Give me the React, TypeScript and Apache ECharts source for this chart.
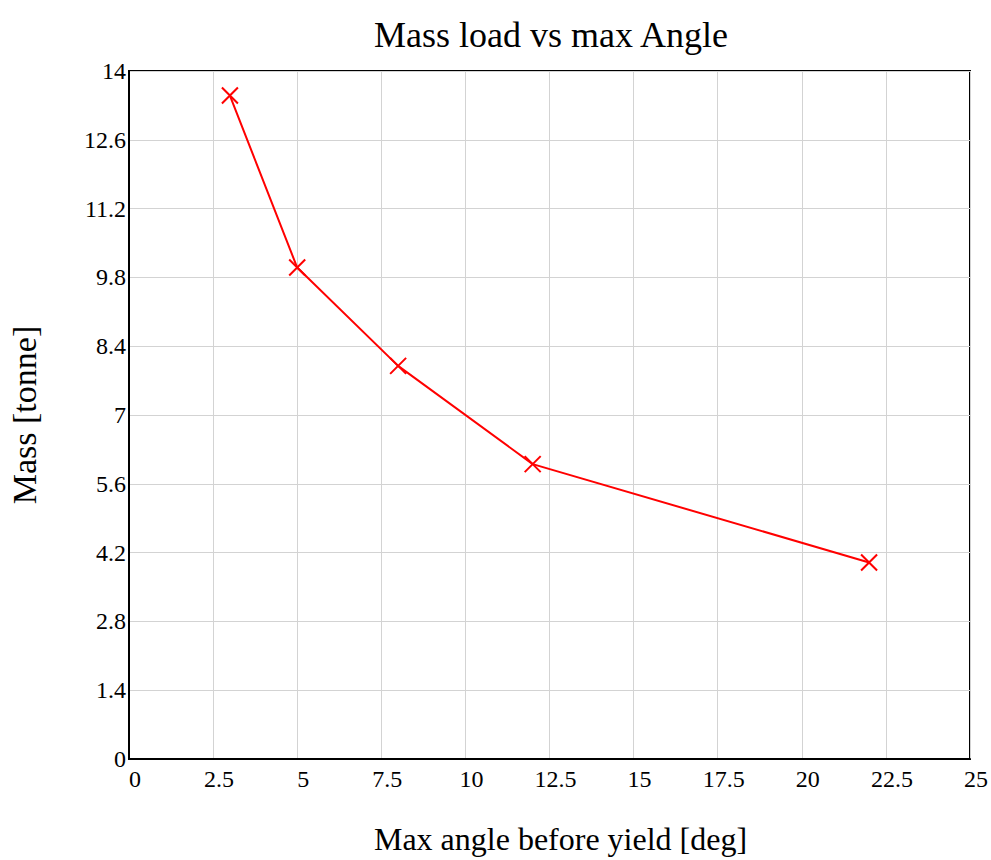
import React, { useEffect, useRef } from "react";
import * as echarts from "echarts";

const angles = [3, 5, 8, 12, 22];
const masses = [13.5, 10, 8, 6, 4];
const titleText = "Mass load vs max Angle";
const xName = "Max angle before yield [deg]";
const yName = "Mass [tonne]";

const FONT = "'Liberation Serif', 'Times New Roman', serif";

export default function App() {
  const ref = useRef<HTMLDivElement>(null);
  useEffect(() => {
    if (!ref.current) return;
    const chart = echarts.init(ref.current, undefined, { renderer: "svg" });
    chart.setOption({
      animation: false,
      backgroundColor: "#fff",
      title: {
        text: titleText,
        left: 551,
        textAlign: "center",
        top: 17,
        padding: 0,
        textStyle: { fontFamily: FONT, fontSize: 36, fontWeight: "normal", color: "#000" },
      },
      grid: {
        left: 129,
        right: 21,
        top: 71,
        bottom: 101,
        show: true,
        borderColor: "#000",
        borderWidth: 2,
        containLabel: false,
        outerBoundsMode: "none",
      },
      xAxis: {
        type: "value",
        min: 0,
        max: 25,
        interval: 2.5,
        name: xName,
        nameLocation: "middle",
        nameGap: 64,
        nameTextStyle: { fontFamily: FONT, fontSize: 32, color: "#000", padding: [0, 0, 0, 22] },
        axisLine: { show: true, lineStyle: { color: "#000", width: 2 } },
        axisTick: { show: false },
        splitLine: { show: true, lineStyle: { color: "#d3d3d3", width: 1 } },
        axisLabel: {
          fontFamily: FONT,
          fontSize: 24,
          color: "#000",
          margin: 8,
          padding: [0, 0, 0, 12],
        },
      },
      yAxis: {
        type: "value",
        min: 0,
        max: 14,
        interval: 1.4,
        name: yName,
        nameLocation: "middle",
        nameGap: 88,
        nameTextStyle: { fontFamily: FONT, fontSize: 34, color: "#000" },
        axisLine: { show: true, lineStyle: { color: "#000", width: 2 } },
        axisTick: { show: false },
        splitLine: { show: true, lineStyle: { color: "#d3d3d3", width: 1 } },
        axisLabel: {
          fontFamily: FONT,
          fontSize: 24,
          color: "#000",
          margin: 3,
          padding: [8, 0, 0, 0],
          formatter: (v: number) => String(Math.round(v * 10) / 10),
        },
      },
      series: [
        {
          type: "line",
          data: angles.map((a, i) => [a, masses[i]]),
          lineStyle: { color: "#ff0000", width: 2 },
          symbol: "path://M0,0L10,10M10,0L0,10",
          symbolSize: 16,
          itemStyle: { color: "#ff0000", borderColor: "#ff0000", borderWidth: 2 },
          showSymbol: true,
        },
      ],
    });
    return () => chart.dispose();
  }, []);
  return <div ref={ref} style={{ width: 991, height: 860, position: "absolute", left: 0, top: 0 }} />;
}
